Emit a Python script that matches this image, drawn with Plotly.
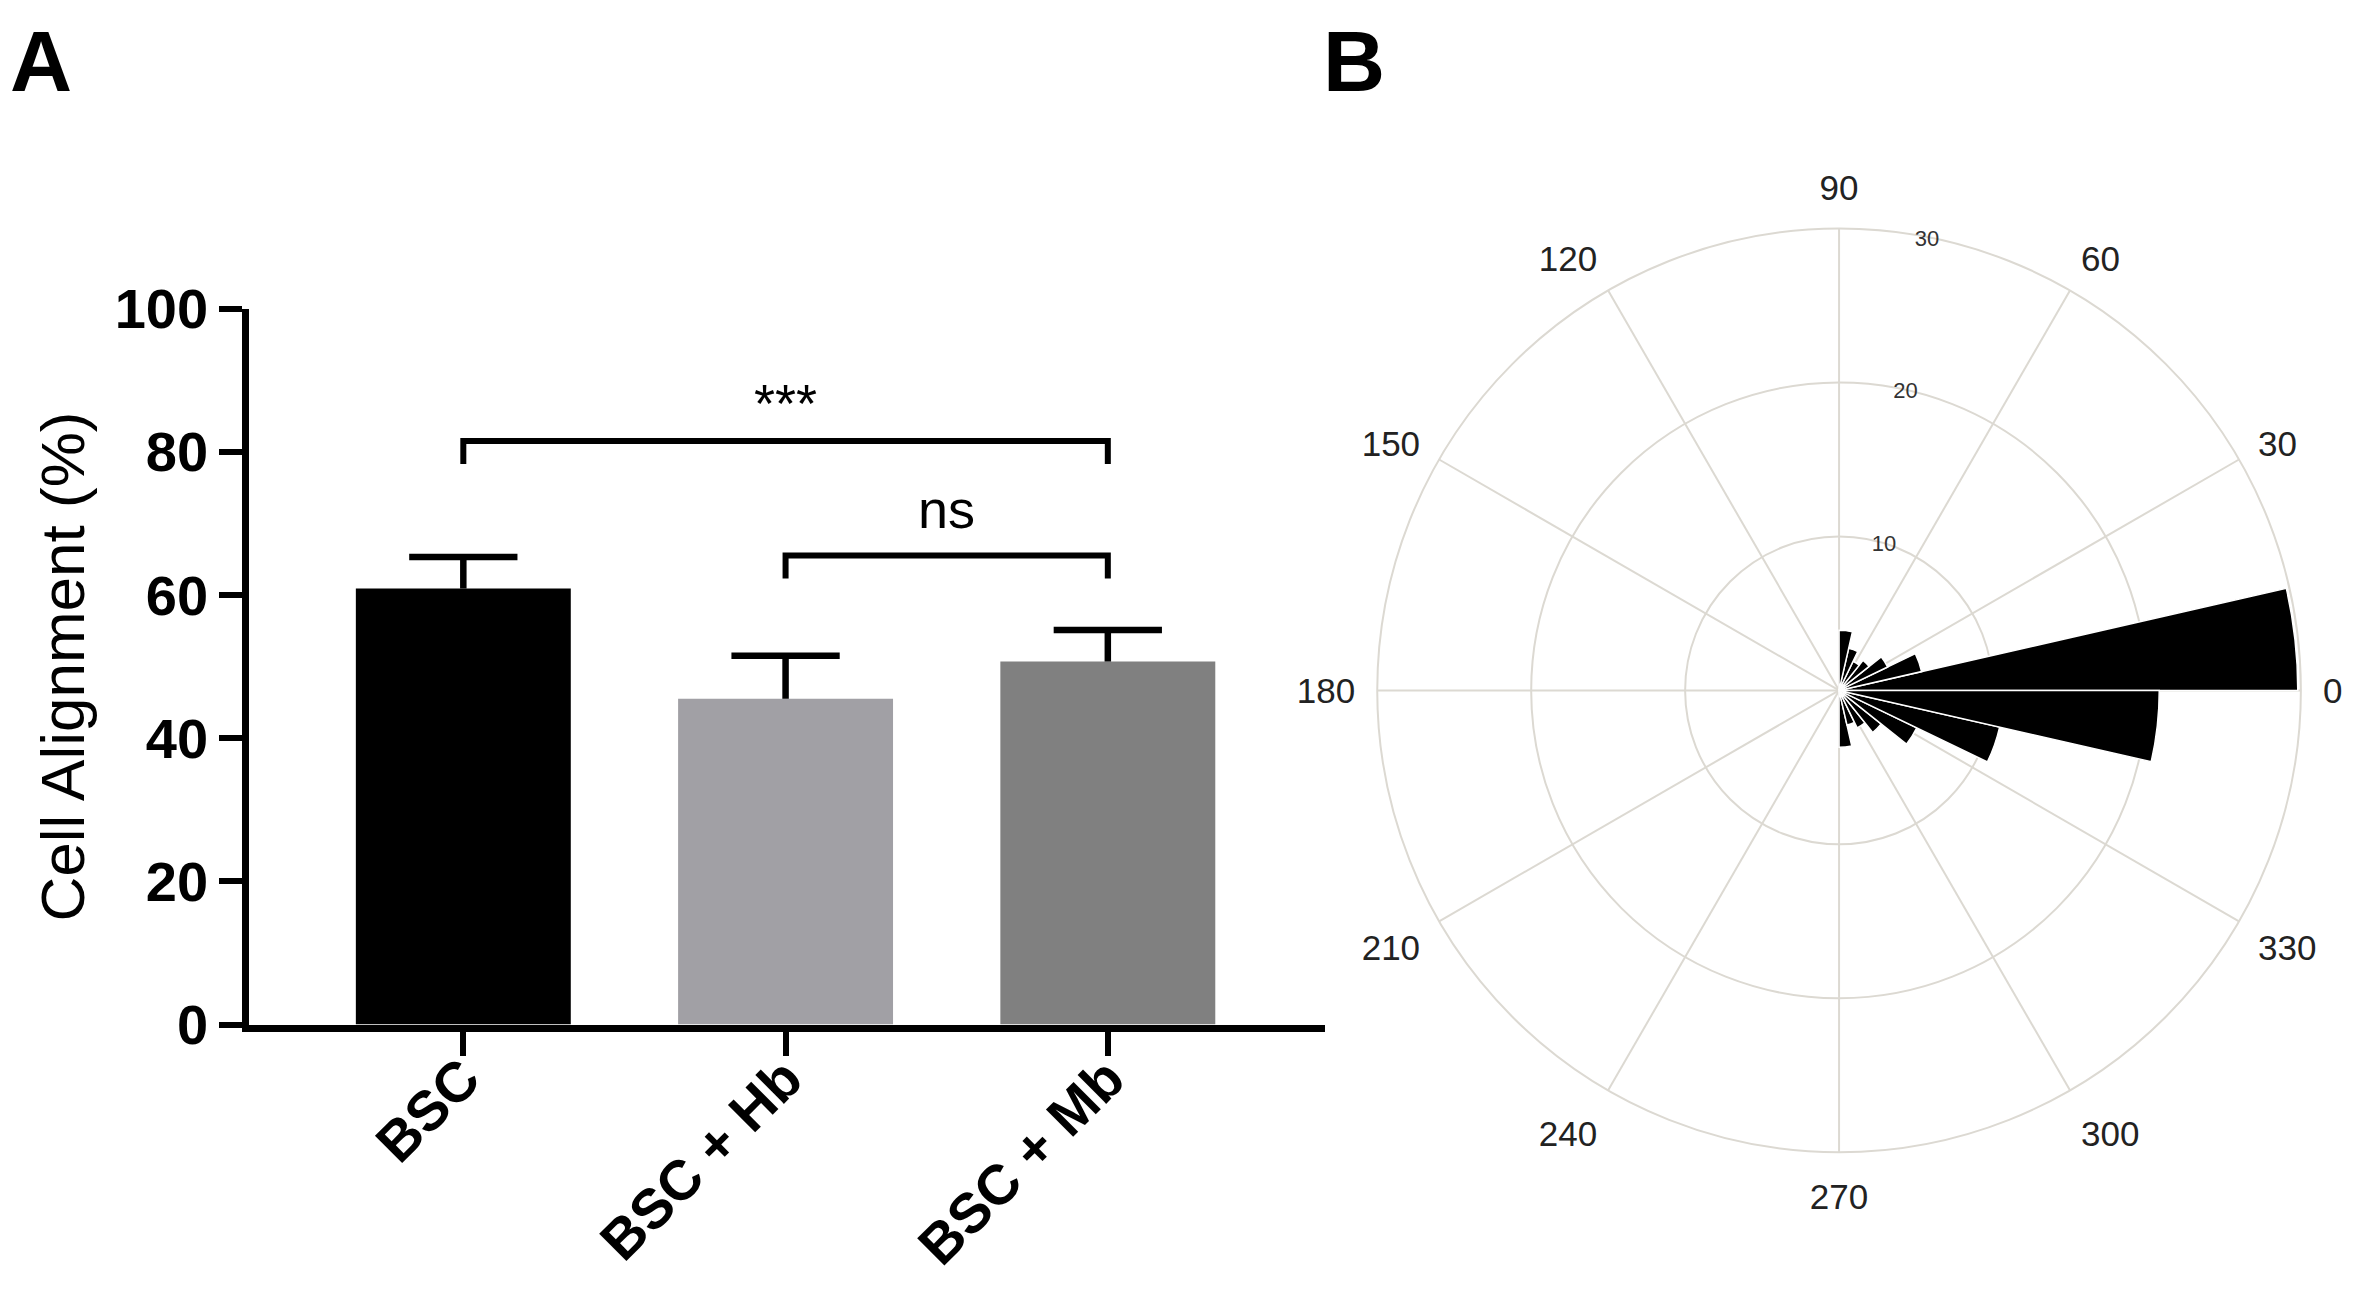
import plotly.graph_objects as go

# panel A: cell alignment per group
groups = ["BSC", "BSC + Hb", "BSC + Mb"]
alignment = [60.9, 45.5, 50.7]
alignment_sem = [4.4, 6.0, 4.4]
bar_colors = ["#000000", "#a1a0a5", "#808080"]

# significance brackets: (left group, right group, height, label)
comparisons = [(0, 2, 81.5, "***"), (1, 2, 65.5, "ns")]
bracket_drop = 3.2

# panel B: orientation histogram, 28 bins of 360/28 degrees
n_bins = 28
bin_counts = [29.8, 5.5, 3.5, 2.5, 2.1, 2.8, 3.9,
              0, 0, 0, 0, 0, 0, 0,
              0, 0, 0, 0, 0, 0, 0,
              3.7, 2.3, 2.7, 3.5, 5.6, 10.7, 20.8]
angle_ticks = list(range(0, 360, 30))
radial_ticks = [10, 20, 30]

bin_width = 360 / n_bins
bin_centers = [bin_width * (i + 0.5) for i in range(n_bins)]

grid_col = "#dcd9d2"
font_main = "Liberation Sans, Arial, sans-serif"
cap_half = 0.168  # half width of error bar caps, in category units
label_gap = {"***": 0.8, "ns": 2.0}

xpos = list(range(len(groups)))

fig = go.Figure()

fig.add_trace(go.Bar(
    x=xpos,
    y=alignment,
    width=0.667,
    marker=dict(color=bar_colors, line=dict(width=0)),
    showlegend=False,
))

# upper-only error bars (stem + cap)
err_x, err_y = [], []
for i, (m, e) in enumerate(zip(alignment, alignment_sem)):
    err_x += [i, i, None, i - cap_half, i + cap_half, None]
    err_y += [m, m + e, None, m + e, m + e, None]
fig.add_trace(go.Scatter(
    x=err_x, y=err_y, mode="lines",
    line=dict(color="black", width=6.5),
    showlegend=False, hoverinfo="skip",
))

for left, right, h, label in comparisons:
    fig.add_shape(type="path",
                  path=f"M {left},{h - bracket_drop} L {left},{h} L {right},{h} L {right},{h - bracket_drop}",
                  xref="x", yref="y", line=dict(color="black", width=6))
    fig.add_annotation(x=(left + right) / 2, y=h + label_gap[label], xref="x", yref="y",
                       text=label, showarrow=False, yanchor="bottom",
                       font=dict(family=font_main, size=54, color="black"))

fig.add_trace(go.Barpolar(
    r=bin_counts,
    theta=bin_centers,
    width=[bin_width] * n_bins,
    marker=dict(color="black", line=dict(color="white", width=1.5)),
    showlegend=False,
    subplot="polar",
))

fig.update_layout(
    width=2370,
    height=1290,
    margin=dict(l=0, r=0, t=0, b=0, autoexpand=False),
    paper_bgcolor="white",
    plot_bgcolor="white",
    font=dict(family=font_main, color="black"),
    xaxis=dict(
        domain=[0.1017, 0.5557],
        range=[-0.665, 2.674],
        tickvals=xpos, ticktext=groups,
        showline=True, linecolor="black", linewidth=6.5,
        ticks="outside", ticklen=25, tickwidth=6, tickcolor="black",
        tickangle=-45, ticklabelstandoff=-33, ticklabelshift=0,
        tickfont=dict(family=font_main, size=56, color="black", weight="bold"),
        showgrid=False, zeroline=False, automargin=False,
    ),
    yaxis=dict(
        domain=[0.212, 0.767],
        range=[0, 100],
        tickvals=[0, 20, 40, 60, 80, 100],
        showline=True, linecolor="black", linewidth=6.5,
        ticks="outside", ticklen=23, tickwidth=6, tickcolor="black",
        tickfont=dict(family=font_main, size=56, color="black", weight="bold"),
        title=dict(text="Cell Alignment (%)", standoff=12,
                   font=dict(family=font_main, size=62, color="black")),
        showgrid=False, zeroline=False, automargin=False,
    ),
    polar=dict(
        domain=dict(x=[0.5766, 0.9686], y=[0.113, 0.829]),
        bgcolor="white",
        hole=0,
        radialaxis=dict(
            range=[0, 30], tickvals=radial_ticks,
            angle=82, side="clockwise", tickangle=82,
            showline=False, ticks="",
            gridcolor=grid_col, gridwidth=2,
            tickfont=dict(family=font_main, size=22, color="#333333"),
        ),
        angularaxis=dict(
            direction="counterclockwise", rotation=0,
            tickvals=angle_ticks, ticktext=[str(a) for a in angle_ticks],
            ticks="outside", ticklen=14, tickcolor="rgba(0,0,0,0)",
            showline=True, linecolor=grid_col, linewidth=2,
            gridcolor=grid_col, gridwidth=2,
            tickfont=dict(family=font_main, size=35, color="#222222"),
        ),
    ),
)

fig.add_annotation(x=0.0, y=0.998, xref="paper", yref="paper", text="<b>A</b>",
                   showarrow=False, xanchor="left", yanchor="top",
                   font=dict(family=font_main, size=86, color="black"))
fig.add_annotation(x=0.554, y=0.998, xref="paper", yref="paper", text="<b>B</b>",
                   showarrow=False, xanchor="left", yanchor="top",
                   font=dict(family=font_main, size=86, color="black"))

fig.write_html("out.html")
